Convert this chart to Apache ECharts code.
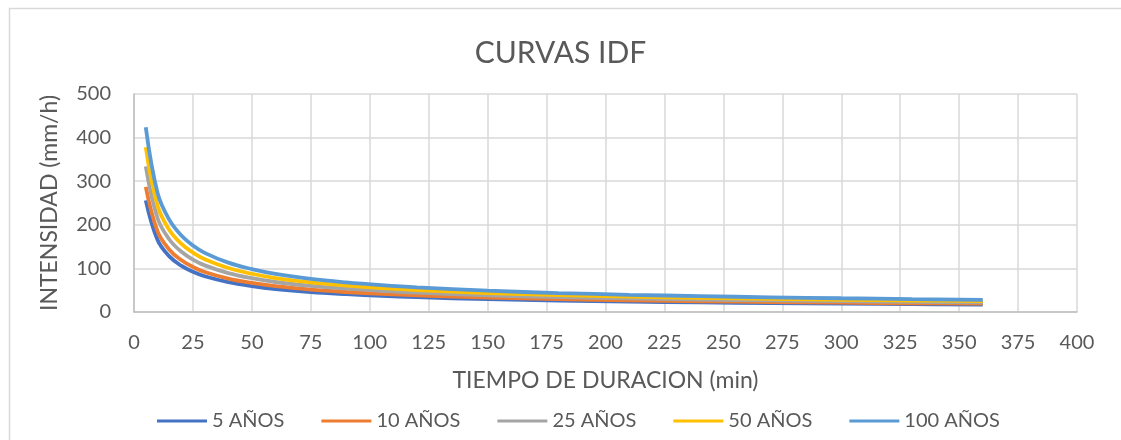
<!DOCTYPE html>
<html>
<head>
<meta charset="utf-8">
<script src="https://cdn.jsdelivr.net/npm/echarts@6/dist/echarts.min.js"></script>
<style>
html,body{margin:0;padding:0;background:#fff;}
#c{width:1121px;height:440px;}
</style>
</head>
<body>
<div id="c"></div>
<script>
const durations = [5,10,15,20,25,30,40,50,60,75,90,105,120,150,180,210,240,270,300,330,360];
const seriesNames = ['5 AÑOS','10 AÑOS','25 AÑOS','50 AÑOS','100 AÑOS'];
const i5   = [256,164.9,127.5,106.2,92.2,81.9,68.4,59.4,52.7,45.8,41.0,37.1,34.0,29.4,26.3,23.9,21.9,20.3,19.0,17.9,16.9];
const i10  = [287,184.8,142.9,119.1,103.3,91.8,76.6,66.6,59.1,51.4,45.9,41.6,38.2,33.0,29.5,26.7,24.6,22.8,21.3,20.1,19.0];
const i25  = [334,215.1,166.3,138.6,120.2,106.9,89.2,77.5,68.8,59.8,53.4,48.4,44.4,38.4,34.3,31.1,28.6,26.5,24.8,23.3,22.1];
const i50  = [378,243.4,188.2,156.9,136.1,121.0,100.9,87.7,77.9,67.7,60.5,54.8,50.3,43.5,38.8,35.2,32.4,30.0,28.1,26.4,25.0];
const i100 = [424,273.1,211.2,176.0,152.6,135.7,113.2,98.4,87.3,75.9,67.8,61.5,56.4,48.8,43.5,39.5,36.3,33.7,31.5,29.6,28.0];
const colors = ['#4472C4','#ED7D31','#A5A5A5','#FFC000','#5B9BD5'];
const allData = [i5,i10,i25,i50,i100];

const FONT = "'Lato',sans-serif";
const chart = echarts.init(document.getElementById('c'));
chart.setOption({
  animation:false,
  color:colors,
  title:{text:'CURVAS IDF',left:'center',top:33,textStyle:{fontFamily:FONT,fontSize:30,fontWeight:'normal',color:'#595959'}},
  grid:{left:134,right:44,top:94,bottom:128},
  legend:{top:406,left:152,icon:'rect',itemWidth:50,itemHeight:3,itemGap:37,
    textStyle:{fontFamily:FONT,fontSize:20,color:'#595959'},
    data:seriesNames},
  xAxis:{type:'value',min:0,max:400,interval:25,
    name:'TIEMPO DE DURACION (min)',nameLocation:'middle',nameGap:57,
    nameTextStyle:{fontFamily:FONT,fontSize:23,color:'#595959'},
    axisLine:{show:true,lineStyle:{color:'#BFBFBF',width:1.5}},axisTick:{show:false},
    axisLabel:{fontFamily:FONT,fontSize:20,color:'#595959',margin:21},
    splitLine:{show:true,lineStyle:{color:'#D9D9D9',width:1.5}}},
  yAxis:{type:'value',min:0,max:500,interval:100,
    name:'INTENSIDAD (mm/h)',nameLocation:'middle',nameGap:73,
    nameTextStyle:{fontFamily:FONT,fontSize:23,color:'#595959'},
    axisLine:{show:true,lineStyle:{color:'#BFBFBF',width:1.5}},axisTick:{show:false},
    axisLabel:{fontFamily:FONT,fontSize:20,color:'#595959',margin:23},
    splitLine:{show:true,lineStyle:{color:'#D9D9D9',width:1.5}}},
  series: seriesNames.map((n,k)=>({
    name:n,type:'line',smooth:0.4,showSymbol:false,
    lineStyle:{width:3.8,color:colors[k]},
    data: durations.map((d,i)=>[d,allData[k][i]])
  })),
  graphic:[{type:'rect',left:7,top:6,shape:{width:1130,height:450},style:{fill:null,stroke:'#D9D9D9',lineWidth:1.5},silent:true}]
});
</script>
</body>
</html>
